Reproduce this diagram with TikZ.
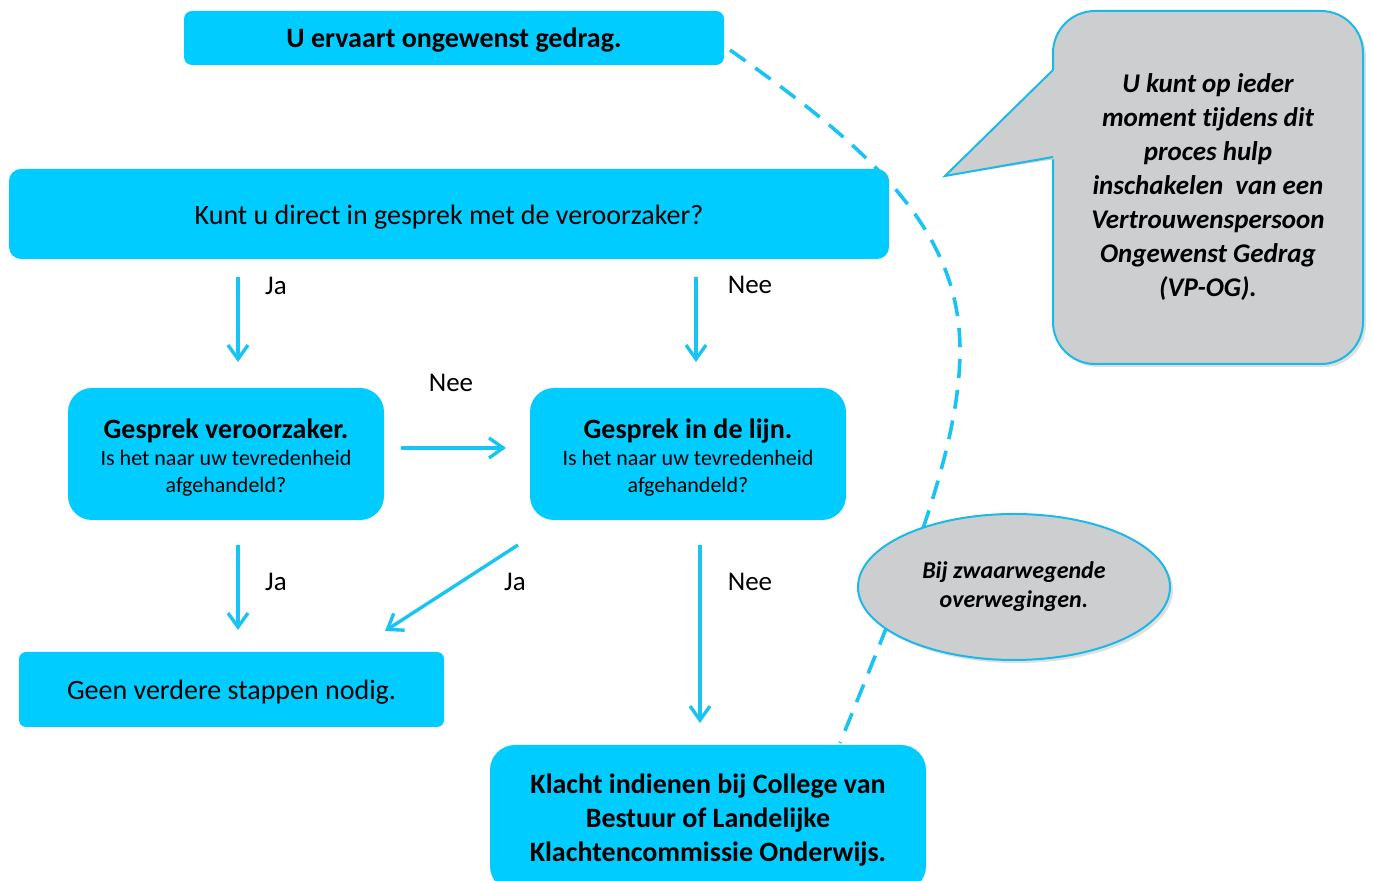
\documentclass[tikz,border=0pt]{standalone}
\usepackage{fontspec}
\setmainfont{Carlito}[Ligatures=NoCommon]
\usetikzlibrary{arrows.meta,shapes.geometric,shadows}
\definecolor{boxc}{HTML}{00CCFF}
\definecolor{arrc}{HTML}{1AC4F2}
\definecolor{grayc}{HTML}{CDCED0}
\definecolor{edgec}{HTML}{1BB9E8}
\newcommand{\lift}[1]{\rule{0pt}{#1}}
\begin{document}
\begin{tikzpicture}[x=0.5pt,y=-0.5pt,
  box/.style={fill=boxc, draw=none, align=center, text=black, inner sep=0pt},
  flow/.style={draw=arrc, line width=1.7pt, -{Straight Barb[length=7pt,width=10pt]}},
  lbl/.style={font=\fontsize{13.5}{16}\selectfont, inner sep=0pt},
  dashline/.style={draw=arrc, line width=1.8pt, dash pattern=on 9.5pt off 6pt},
  grayshape/.style={fill=grayc, draw=edgec, line width=1pt},
  softshadow/.style={drop shadow={shadow xshift=1.5pt,shadow yshift=-1.5pt,opacity=0.25}}]
\useasboundingbox (0,0) rectangle (1373,881);

% boxes
\node[box, rounded corners=4pt, minimum width=270pt, minimum height=27pt,
  font=\bfseries\fontsize{14}{17}\selectfont] (top) at (454,38) {\lift{12pt}U ervaart ongewenst gedrag.};
\node[box, rounded corners=6pt, minimum width=440pt, minimum height=45pt,
  font=\fontsize{14}{17}\selectfont] (q) at (449,214) {\lift{12.8pt}Kunt u direct in gesprek met de veroorzaker?};
\node[box, rounded corners=12pt, minimum width=158pt, minimum height=66pt,
  font=\fontsize{11}{13.5}\selectfont] (gv) at (226,454)
  {{\bfseries\fontsize{14}{15}\selectfont\lift{13pt}Gesprek veroorzaker.}\\Is het naar uw tevredenheid\\afgehandeld?};
\node[box, rounded corners=12pt, minimum width=158pt, minimum height=66pt,
  font=\fontsize{11}{13.5}\selectfont] (gl) at (688,454)
  {{\bfseries\fontsize{14}{15}\selectfont\lift{13pt}Gesprek in de lijn.}\\Is het naar uw tevredenheid\\afgehandeld?};
\node[box, rounded corners=3.5pt, minimum width=212.5pt, minimum height=37.5pt,
  font=\fontsize{14}{17}\selectfont] (geen) at (231.5,689.5) {\lift{12.8pt}Geen verdere stappen nodig.};
\node[box, rounded corners=12.5pt, minimum width=218pt, minimum height=73pt,
  font=\bfseries\fontsize{14}{17}\selectfont] (kl) at (708,818)
  {\lift{12pt}Klacht indienen bij College van\\Bestuur of Landelijke\\Klachtencommissie Onderwijs.};

% arrows
\coordinate (a1s) at (238,277); \coordinate (a1e) at (238,362);
\coordinate (a2s) at (696,277); \coordinate (a2e) at (696,362);
\coordinate (a3s) at (401,448); \coordinate (a3e) at (506,448);
\coordinate (a4s) at (238,545); \coordinate (a4e) at (238,630);
\coordinate (a5s) at (518,545); \coordinate (a5e) at (385,631);
\coordinate (a6s) at (700,545); \coordinate (a6e) at (700,723);
\draw[flow] (a1s) -- (a1e);
\draw[flow] (a2s) -- (a2e);
\draw[flow] (a3s) -- (a3e);
\draw[flow] (a4s) -- (a4e);
\draw[flow] (a5s) -- (a5e);
\draw[flow] (a6s) -- (a6e);

% labels
\node[lbl] (l1) at (276,286) {Ja};
\node[lbl] (l2) at (750,285) {Nee};
\node[lbl] (l3) at (451,383) {Nee};
\node[lbl] (l4) at (276,582) {Ja};
\node[lbl] (l5) at (515,582) {Ja};
\node[lbl] (l6) at (750,582) {Nee};

% dashed curve
\coordinate (d0) at (730,50);
\coordinate (d1) at (960,350);
\coordinate (d2) at (840,743);
\draw[dashline] (d0) .. controls (872,150) and (960,230) .. (d1)
  .. controls (960,450) and (907.5,576.5) .. (d2);

% callout
\node[grayshape, softshadow, rounded corners=21pt, minimum width=155pt, minimum height=176.5pt,
  align=center, font=\bfseries\itshape\fontsize{13.5}{17}\selectfont] (vp) at (1208,187.5)
  {U kunt op ieder\\moment tijdens dit\\proces hulp\\inschakelen\ \ van een\\Vertrouwenspersoon\\Ongewenst Gedrag\\(VP-OG).};
\coordinate (pa) at (1053,70);
\coordinate (pt) at (945,176);
\coordinate (pb) at (1053,157);
\fill[grayc] (pt) -- (1056,68) -- (1056,159) -- cycle;
\draw[edgec, line width=1pt, line join=miter] (pa) -- (pt) -- (pb);

% ellipse
\node[grayshape, softshadow, ellipse, minimum width=156pt, minimum height=73pt, inner sep=0pt,
  align=center, font=\bfseries\itshape\fontsize{12}{14.5}\selectfont] (bz) at (1014,587)
  {Bij zwaarwegende\\overwegingen.};
\end{tikzpicture}
\end{document}
